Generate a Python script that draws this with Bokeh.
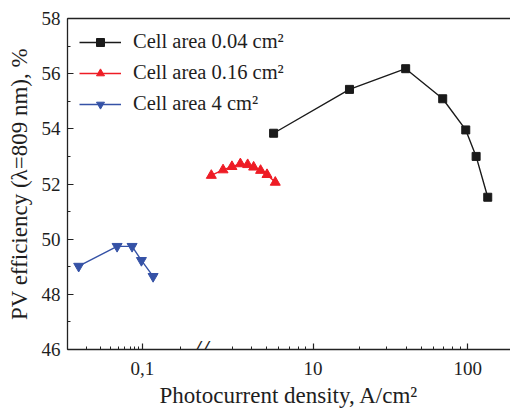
import numpy as np
from bokeh.plotting import figure
from bokeh.models import (Range1d, LinearAxis, FixedTicker, SingleIntervalTicker,
                          CustomJSTickFormatter, Label)
from bokeh.embed import file_html
from bokeh.resources import INLINE

# ---------------- data ----------------
area_004_x = [5.56, 17.2, 39.7, 68.9, 97.1, 113.3, 134.7]
area_004_y = [53.84, 55.43, 56.18, 55.09, 53.96, 53.00, 51.52]

area_016_x = [2.20, 2.62, 2.99, 3.39, 3.78, 4.13, 4.58, 5.04, 5.70]
area_016_y = [52.31, 52.51, 52.63, 52.73, 52.70, 52.61, 52.49, 52.34, 52.06]

area_4_x = [0.0160, 0.0483, 0.0743, 0.0972, 0.136]
area_4_y = [49.02, 49.74, 49.74, 49.23, 48.65]

series_labels = ["Cell area 0.04 cm²", "Cell area 0.16 cm²", "Cell area 4 cm²"]

x_major_ticks = [0.1, 10, 100]
x_major_labels = ["0,1", "10", "100"]
x_minor_ticks = [0.02, 0.03, 0.04, 0.05, 0.06, 0.07, 0.08, 0.09, 0.3,
                 3, 4, 5, 6, 7, 8, 9, 20, 30, 40, 50, 60, 70, 80, 90]

x_axis_title = "Photocurrent density, A/cm²"
y_axis_title = "PV efficiency (λ=809 nm), %"

# ---------------- broken log x axis ----------------
X_LEFT = (0.0116, 0.53)    # left log segment
X_RIGHT = (1.87, 189.0)    # right log segment
BREAK = 0.30               # fraction of axis width for left segment


def bx(vals):
    v = np.asarray(vals, dtype=float)
    lg = np.log10(v)
    l0, l1 = np.log10(X_LEFT[0]), np.log10(X_LEFT[1])
    r0, r1 = np.log10(X_RIGHT[0]), np.log10(X_RIGHT[1])
    left = BREAK * (lg - l0) / (l1 - l0)
    right = BREAK + (1 - BREAK) * (lg - r0) / (r1 - r0)
    return np.where(v <= X_LEFT[1], left, right)


FONT = "Liberation Serif"
TXT = "#1e1e1e"
AX = "#222222"

p = figure(width=510, height=412, output_backend="svg", toolbar_location=None,
           x_range=Range1d(0, 1), y_range=Range1d(46, 58),
           min_border_left=67, min_border_right=0, min_border_top=18,
           min_border_bottom=63)
p.outline_line_color = None
p.xgrid.visible = False
p.ygrid.visible = False

colors = ["#1a1a1a", "#ee1c25", "#3552a6"]
markers = ["square", "triangle", "inverted_triangle"]
sizes = [8, 10, 10]
xs = [area_004_x, area_016_x, area_4_x]
ys = [area_004_y, area_016_y, area_4_y]

for x, y, c, m, s, lab in zip(xs, ys, colors, markers, sizes, series_labels):
    ux = bx(x)
    p.line(ux, y, line_color=c, line_width=1.4, legend_label=lab)
    p.scatter(ux, y, marker=m, size=s, fill_color=c, line_color=c,
              legend_label=lab)

# x axis
xa = p.xaxis[0]
xa.ticker = FixedTicker(ticks=list(bx(x_major_ticks)),
                        minor_ticks=list(bx(x_minor_ticks)))
xa.formatter = CustomJSTickFormatter(
    args=dict(vals=list(bx(x_major_ticks)), labs=x_major_labels),
    code="""
    for (let i = 0; i < vals.length; i++) {
        if (Math.abs(tick - vals[i]) < 1e-6) return labs[i];
    }
    return "";
    """)
xa.axis_label = x_axis_title
xa.major_label_standoff = 12
xa.axis_label_standoff = 5

# y axis
ya = p.yaxis[0]
ya.ticker = SingleIntervalTicker(interval=2, num_minor_ticks=2)
ya.axis_label = y_axis_title
ya.major_label_standoff = 7
ya.axis_label_standoff = 7

for ax in (xa, ya):
    ax.major_tick_in = 6
    ax.major_tick_out = 0
    ax.minor_tick_in = 3
    ax.minor_tick_out = 0
    ax.axis_line_color = AX
    ax.axis_line_width = 1.3
    ax.major_tick_line_color = AX
    ax.minor_tick_line_color = AX
    ax.major_tick_line_width = 1.2
    ax.minor_tick_line_width = 1.0
    ax.major_label_text_font = FONT
    ax.major_label_text_font_size = "19px"
    ax.major_label_text_color = TXT
    ax.axis_label_text_font = FONT
    ax.axis_label_text_font_size = "23px"
    ax.axis_label_text_font_style = "normal"
    ax.axis_label_text_color = TXT

# top frame line
top = LinearAxis(ticker=FixedTicker(ticks=[]), major_label_text_font_size="0px",
                 major_tick_out=0, minor_tick_out=0, major_label_standoff=0,
                 axis_line_color=AX, axis_line_width=1.3)
p.add_layout(top, "above")

# axis break mark
p.add_layout(Label(x=BREAK, y=46, text="//", text_font=FONT,
                   text_font_size="28px", text_font_style="italic",
                   text_color=AX, text_align="center", text_baseline="middle"))

# legend
lg = p.legend[0]
lg.location = "top_left"
lg.margin = 12
lg.padding = 10
lg.spacing = 8
lg.glyph_width = 42
lg.glyph_height = 20
lg.label_standoff = 12
lg.label_text_font = FONT
lg.label_text_font_size = "20.5px"
lg.label_text_color = TXT
lg.border_line_color = None
lg.background_fill_alpha = 0

open("out.html", "w").write(file_html(p, INLINE))
